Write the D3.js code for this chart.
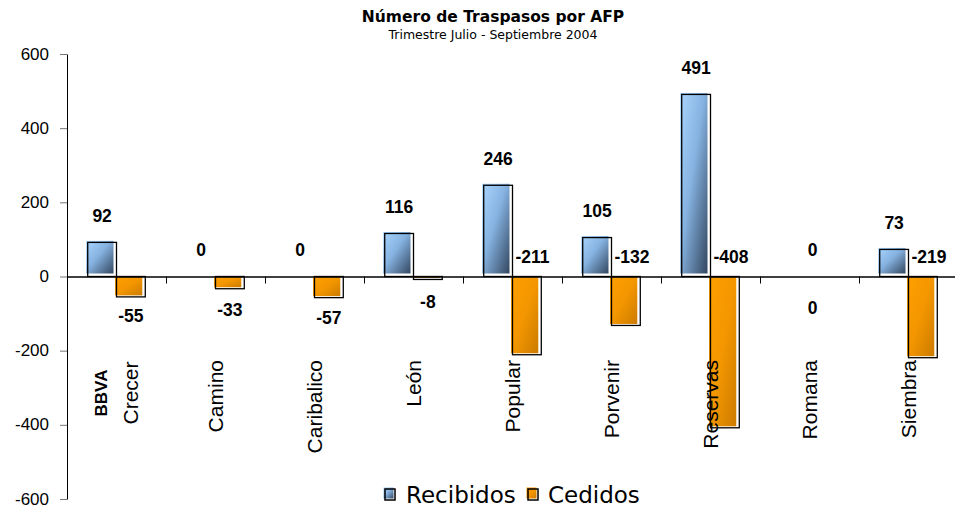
<!doctype html>
<html>
<head>
<meta charset="utf-8">
<script src="https://cdnjs.cloudflare.com/ajax/libs/d3/7.8.5/d3.min.js"></script>
<style>
body { margin: 0; background: #fff; }
svg { display: block; }
.title { font-family: "DejaVu Sans", sans-serif; font-weight: bold; font-size: 15.5px; }
.subtitle { font-family: "DejaVu Sans", sans-serif; font-size: 12.5px; }
.yaxis text { font-family: "Liberation Sans", Arial, sans-serif; font-size: 17px; fill: #000; }
.yaxis .tick line { stroke: #777; }
.yaxis path, .xaxis path, .xaxis line { stroke: #000; }
.xaxis path { stroke-width: 1.5px; }
.vlabel { font-family: "Liberation Sans", Arial, sans-serif; font-weight: bold; font-size: 17.5px; }
.cat { font-family: "Liberation Sans", Arial, sans-serif; font-size: 21px; }
.legend text { font-family: "DejaVu Sans", sans-serif; font-size: 23px; }
</style>
</head>
<body>
<svg width="955" height="508"></svg>
<script>
var categories = ["BBVA Crecer", "Camino", "Caribalico", "León", "Popular", "Porvenir", "Reservas", "Romana", "Siembra"];
var series = ["Recibidos", "Cedidos"];
var recibidos = [92, 0, 0, 116, 246, 105, 491, 0, 73];
var cedidos = [-55, -33, -57, -8, -211, -132, -408, 0, -219];
var yTicks = [-600, -400, -200, 0, 200, 400, 600];

// where the Cedidos labels were placed on the original (value level of the label centre)
var cedidosLabelMode = ["below", "below", "below", "below", "side", "side", "side", "below", "side"];
var cedidosLabelLevel = [-105, -89, -110, -67, 54, 54, 54, -83, 54];
var labelOnGroup = [false, false, false, false, false, false, false, true, false];

var svg = d3.select("svg");

var defs = svg.append("defs");
function grad(id, stops) {
  var g = defs.append("linearGradient").attr("id", id)
    .attr("x1", 0).attr("y1", 0).attr("x2", 1).attr("y2", 1);
  stops.forEach(s => g.append("stop").attr("offset", s[0]).attr("stop-color", s[1]));
}
grad("gBlue", [["0%", "#a9d5fd"], ["45%", "#85b2e0"], ["100%", "#33465f"]]);
grad("gOrange", [["0%", "#ffa000"], ["50%", "#f39600"], ["100%", "#cc7b00"]]);
var fills = {Recibidos: "url(#gBlue)", Cedidos: "url(#gOrange)"};

var y = d3.scaleLinear().domain([-600, 600]).range([499, 54]);
var x = d3.scaleBand().domain(categories).range([67, 958]);
var xs = d3.scaleBand().domain(series).range([0, x.bandwidth()]).paddingOuter(0.72);
var xi = d3.scaleLinear().domain([0, categories.length]).range([67, 958]);

svg.append("text").attr("class", "title")
  .attr("x", 493).attr("y", 22).attr("text-anchor", "middle")
  .text("Número de Traspasos por AFP");
svg.append("text").attr("class", "subtitle")
  .attr("x", 493).attr("y", 39).attr("text-anchor", "middle")
  .text("Trimestre Julio - Septiembre 2004");

svg.append("g").attr("class", "yaxis")
  .attr("transform", "translate(67,0)")
  .call(d3.axisLeft(y).tickValues(yTicks).tickSize(7).tickSizeOuter(0).tickPadding(11).tickFormat(d => String(d)))
  .selectAll("text").attr("dy", "0.3em");

// bars
var rows = [];
categories.forEach((c, i) => {
  rows.push({cat: c, s: "Recibidos", v: recibidos[i], i: i});
  rows.push({cat: c, s: "Cedidos", v: cedidos[i], i: i});
});

var bars = svg.append("g").selectAll("g").data(rows).enter().append("g");
bars.append("rect")
  .attr("x", d => x(d.cat) + xs(d.s) - 1.5)
  .attr("y", d => Math.min(y(d.v), y(0)) - (d.v > 0 ? 1.5 : 0))
  .attr("width", xs.bandwidth() - 1.5)
  .attr("height", d => Math.max(0, Math.abs(y(d.v) - y(0)) - 1.5))
  .style("fill", d => fills[d.s]);
bars.filter(d => d.v != 0).append("rect")
  .attr("x", d => x(d.cat) + xs(d.s))
  .attr("y", d => Math.min(y(d.v), y(0)))
  .attr("width", xs.bandwidth())
  .attr("height", d => Math.abs(y(d.v) - y(0)))
  .style("fill", "none").style("stroke", "#000").style("stroke-width", 1.3);

svg.append("g").attr("class", "xaxis")
  .attr("transform", "translate(0," + y(0) + ")")
  .call(d3.axisBottom(xi).tickValues(d3.range(1, categories.length)).tickSize(7).tickSizeOuter(0).tickFormat(""));

// value labels
svg.append("g").selectAll("text").data(categories).enter().append("text")
  .attr("class", "vlabel").attr("text-anchor", "middle")
  .attr("x", (c, i) => labelOnGroup[i] ? x(c) + x.bandwidth() / 2 + 3 : x(c) + xs("Recibidos") + xs.bandwidth() / 2)
  .attr("y", (c, i) => y(recibidos[i]) - 27)
  .attr("dy", "0.36em")
  .text((c, i) => recibidos[i]);

svg.append("g").selectAll("text").data(categories).enter().append("text")
  .attr("class", "vlabel")
  .attr("text-anchor", (c, i) => cedidosLabelMode[i] == "side" ? "start" : "middle")
  .attr("x", (c, i) => {
    if (cedidosLabelMode[i] == "side") return x(c) + xs("Cedidos") + 3;
    if (labelOnGroup[i]) return x(c) + x.bandwidth() / 2 + 3;
    return x(c) + xs("Cedidos") + xs.bandwidth() / 2;
  })
  .attr("y", (c, i) => y(cedidosLabelLevel[i]))
  .attr("dy", "0.36em")
  .text((c, i) => cedidos[i]);

// category labels (rotated)
var cats = svg.append("g").selectAll("text").data(categories).enter().append("text")
  .attr("class", "cat")
  .attr("transform", c => {
    var multi = c.indexOf(" ") > 0;
    return "translate(" + (x(c) + x.bandwidth() / 2) + "," + (multi ? 393 : 360) + ") rotate(-90)";
  })
  .attr("text-anchor", c => c.indexOf(" ") > 0 ? "middle" : "end");
cats.each(function (c) {
  var parts = c.split(" ");
  var t = d3.select(this);
  if (parts.length == 1) {
    t.attr("dy", "0.36em").text(c);
  } else {
    parts.forEach((p, k) => {
      t.append("tspan").attr("x", 0)
        .attr("y", (k - (parts.length - 1) / 2) * 30 - 1)
        .attr("dy", "0.36em")
        .style("font-weight", k == 0 ? "bold" : null)
        .style("font-size", k == 0 ? "17px" : null)
        .text(p);
    });
  }
});

// legend
var legendX = [385, 528];
var legendTextX = [406, 548];
var lg = svg.append("g").attr("class", "legend").selectAll("g").data(series).enter().append("g");
lg.append("rect")
  .attr("x", (d, i) => legendX[i] - 1.5).attr("y", 487.5)
  .attr("width", 10).attr("height", 11)
  .style("fill", d => fills[d]);
lg.append("rect")
  .attr("x", (d, i) => legendX[i]).attr("y", 489)
  .attr("width", 10).attr("height", 11)
  .style("fill", "none").style("stroke", "#000").style("stroke-width", 1.5);
lg.append("text")
  .attr("x", (d, i) => legendTextX[i]).attr("y", 503)
  .text(d => d);
</script>
</body>
</html>
